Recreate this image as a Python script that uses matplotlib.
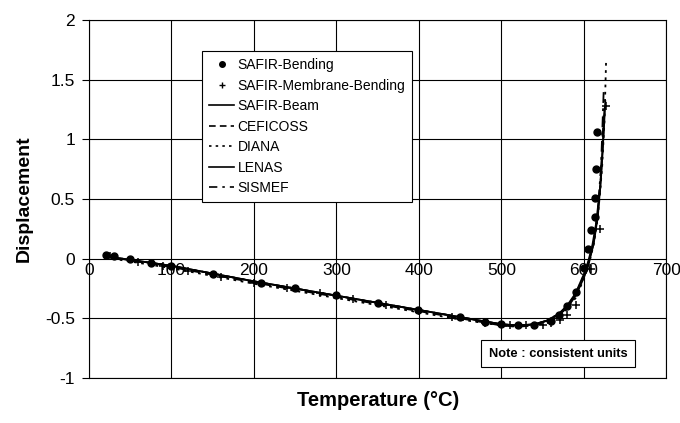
import matplotlib
matplotlib.use("Agg")
import matplotlib.pyplot as plt
from matplotlib.lines import Line2D

plt.rcParams['font.family'] = ['Liberation Sans', 'DejaVu Sans']

# SAFIR-Bending (dots)
bend_t = [20, 30, 50, 75, 100, 150, 209, 250, 300, 350, 399, 450, 480, 500, 520, 540, 560, 570, 580, 591, 600, 605, 609, 613, 613.5, 614.5, 615.5]
bend_d = [0.03, 0.025, -0.005, -0.035, -0.06, -0.13, -0.20, -0.25, -0.305, -0.37, -0.43, -0.49, -0.53, -0.55, -0.56, -0.555, -0.52, -0.47, -0.40, -0.28, -0.075, 0.08, 0.24, 0.35, 0.51, 0.75, 1.065]

# SAFIR-Membrane-Bending (crosses)
memb_t = [25, 60, 90, 120, 160, 200, 240, 280, 320, 360, 400, 440, 480, 510, 530, 550, 560, 571, 580, 590, 609, 619, 627]
memb_d = [0.02, -0.03, -0.06, -0.10, -0.15, -0.20, -0.25, -0.29, -0.34, -0.39, -0.44, -0.49, -0.54, -0.56, -0.56, -0.555, -0.54, -0.51, -0.47, -0.39, -0.09, 0.25, 1.28]

# Analytical curves
beam_t = [20, 100, 200, 300, 400, 450, 500, 520, 540, 555, 570, 580, 590, 600, 605, 610, 615, 620, 623, 625]
beam_d = [0.02, -0.06, -0.19, -0.31, -0.43, -0.49, -0.55, -0.56, -0.55, -0.52, -0.46, -0.39, -0.29, -0.13, -0.03, 0.10, 0.30, 0.62, 0.95, 1.25]

cefi_t = [20, 100, 200, 300, 400, 450, 500, 520, 540, 555, 570, 580, 590, 600, 605, 610, 615, 620, 624]
cefi_d = [0.02, -0.07, -0.20, -0.32, -0.44, -0.50, -0.56, -0.57, -0.56, -0.53, -0.47, -0.41, -0.31, -0.15, -0.05, 0.08, 0.27, 0.60, 1.20]

diana_t = [20, 100, 200, 300, 400, 450, 500, 520, 540, 555, 570, 580, 590, 600, 606, 612, 617, 622, 625, 627]
diana_d = [0.01, -0.08, -0.21, -0.33, -0.45, -0.51, -0.56, -0.57, -0.56, -0.54, -0.48, -0.42, -0.33, -0.17, -0.05, 0.12, 0.35, 0.75, 1.15, 1.67]

lenas_t = [20, 100, 200, 300, 400, 450, 500, 520, 540, 555, 570, 580, 590, 600, 606, 612, 617, 621, 624, 626]
lenas_d = [0.02, -0.06, -0.19, -0.31, -0.43, -0.49, -0.55, -0.56, -0.55, -0.52, -0.47, -0.40, -0.31, -0.16, -0.04, 0.13, 0.36, 0.70, 1.05, 1.32]

sism_t = [20, 100, 200, 300, 400, 450, 500, 520, 540, 555, 570, 580, 590, 600, 606, 612, 617, 621, 624]
sism_d = [0.02, -0.06, -0.19, -0.31, -0.43, -0.49, -0.55, -0.56, -0.55, -0.52, -0.46, -0.40, -0.30, -0.14, -0.02, 0.14, 0.40, 0.80, 1.40]

xticks = [0, 100, 200, 300, 400, 500, 600, 700]
yticks = [-1, -0.5, 0, 0.5, 1, 1.5, 2]
ytick_labels = ['-1', '-0.5', '0', '0.5', '1', '1.5', '2']

fig = plt.figure(figsize=(6.8, 4.23), dpi=100)
ax = fig.add_axes([0.1309, 0.1064, 0.849, 0.8463])

ax.set_xlim(0, 700)
ax.set_ylim(-1, 2)
ax.set_xticks(xticks)
ax.set_yticks(yticks)
ax.set_yticklabels(ytick_labels, fontsize=12.5)
ax.grid(True, color='black', linewidth=0.8)
ax.set_axisbelow(True)
for s in ax.spines.values():
    s.set_linewidth(0.8)
ax.tick_params(axis='y', direction='out', length=5, width=0.8, pad=5)
ax.tick_params(axis='x', length=0, labelbottom=False)

for t in xticks:
    ax.annotate(str(t), xy=(t, 0), xytext=(0, -3), textcoords='offset points',
                ha='center', va='top', fontsize=12.5)

lw = 1.3
ax.plot(beam_t, beam_d, color='black', lw=lw, ls='-')
ax.plot(cefi_t, cefi_d, color='black', lw=lw, ls=(0, (5, 3)))
ax.plot(diana_t, diana_d, color='black', lw=lw, ls=(0, (1.5, 2.5)))
ax.plot(lenas_t, lenas_d, color='black', lw=lw, ls='-')
ax.plot(sism_t, sism_d, color='black', lw=lw, ls=(0, (6, 3, 1.5, 3)))
ax.plot(bend_t, bend_d, ls='none', marker='o', ms=5, color='black')
ax.plot(memb_t, memb_d, ls='none', marker='+', ms=6, mew=1.1, color='black')

handles = [
    Line2D([], [], ls='none', marker='o', ms=4, color='black'),
    Line2D([], [], ls='none', marker='+', ms=5, color='black'),
    Line2D([], [], color='black', lw=1.2, ls='-'),
    Line2D([], [], color='black', lw=1.2, ls=(0, (4, 2.5))),
    Line2D([], [], color='black', lw=1.2, ls=(0, (1.5, 2.5))),
    Line2D([], [], color='black', lw=1.2, ls='-'),
    Line2D([], [], color='black', lw=1.2, ls=(0, (5, 3, 1.5, 3))),
]
labels = ['SAFIR-Bending', 'SAFIR-Membrane-Bending', 'SAFIR-Beam', 'CEFICOSS',
          'DIANA', 'LENAS', 'SISMEF']
leg = ax.legend(handles, labels, loc='upper left', bbox_to_anchor=(0.196, 0.913),
                fontsize=10, frameon=True, fancybox=False, edgecolor='black',
                framealpha=1, handlelength=1.8, handletextpad=0.25,
                labelspacing=0.47, borderpad=0.5, borderaxespad=0)
leg.get_frame().set_linewidth(0.8)

ax.text(0.693, 0.068, 'Note : consistent units', transform=ax.transAxes,
        fontsize=9.3, fontweight='bold', ha='left', va='center',
        bbox=dict(boxstyle='square,pad=0.6', fc='white', ec='black', lw=0.8))

ax.set_ylabel('Displacement', fontsize=14, fontweight='bold', labelpad=9)
fig.text(0.556, 0.054, 'Temperature (°C)', fontsize=14.5, fontweight='bold',
         ha='center', va='center')

fig.savefig('out.png', dpi=100)
